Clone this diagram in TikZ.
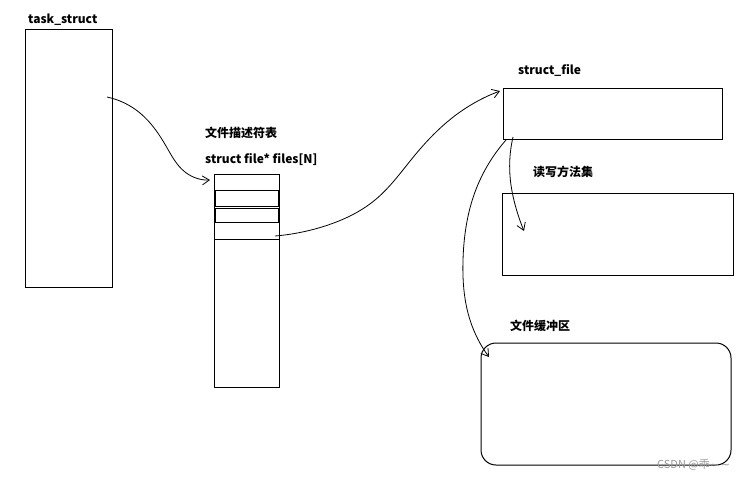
\documentclass[tikz,border=0pt]{standalone}
\usepackage{fontspec}
\newfontfamily\cjk{Noto Sans CJK SC}
\newfontfamily\symfont{DejaVu Sans}
\usepackage{tikz}
\usetikzlibrary{hobby, calc, arrows.meta}
\def\Wth{1pt}
\def\Ink{black}
\def\Fade{black!40}
\tikzset{
    mem box/.style={
        draw=\Ink, line width=\Wth, rectangle,
        inner sep=0pt, outer sep=0pt, anchor=north west
    },
    hand arrow/.style={
        draw=\Ink, line width=0.8pt,
        -{Straight Barb[length=7pt,width=9pt]}
    },
    lbl/.style={
        font=\cjk\bfseries\fontsize{12}{14}\selectfont,
        anchor=west, inner sep=0pt
    }
}

\begin{document}
\begin{tikzpicture}[x=1pt, y=-1pt, use Hobby shortcut]
    \useasboundingbox[fill=white] (0,0) rectangle (754,480);

    % boxes
    \node[mem box, minimum width=87, minimum height=258] (task) at (25,29) {};
    \node[mem box, minimum width=65, minimum height=213] (fdt) at (214,174) {};
    \node[mem box, minimum width=219, minimum height=51] (sfile) at (503,88) {};
    \node[mem box, minimum width=231, minimum height=82] (rw) at (502,193) {};
    \node[mem box, rounded corners=15pt, minimum width=250, minimum height=122] (buf) at (481,343) {};

    % slots of the table
    \draw[line width=\Wth] ($(fdt.north west)+(0,16)$) -- ++(65,0);
    \draw[line width=\Wth] ($(fdt.north west)+(1,16)$) rectangle ++(63,16);
    \draw[line width=\Wth] ($(fdt.north west)+(1,34)$) rectangle ++(63,14);
    \draw[line width=\Wth] ($(fdt.north west)+(0,48)$) -- ++(65,0);
    \draw[line width=\Wth] ($(fdt.north west)+(0,65)$) -- ++(65,0);

    % labels
    \node[lbl] (taskLbl) at (28,20) {task\_struct};
    \node[lbl] (fdtName) at (205,133) {文件描述符表};
    \node[lbl] (fdtDecl) at (205,160) {struct file* files[N]};
    \node[lbl] (sfileLbl) at (518,70) {struct\_file};
    \node[lbl] (rwLbl) at (533,172) {读写方法集};
    \node[lbl] (bufLbl) at (510,326) {文件缓冲区};
    \node[font=\cjk\fontsize{11}{13}\selectfont, text=\Fade, anchor=west, inner sep=0pt]
        (mark) at (657,465) {CSDN @乖{\symfont\string~\,\string~}};

    % pointer ends
    \coordinate (tFrom) at ($(task.north west)+(82,68)$);
    \coordinate (tTo) at ($(fdt.north west)+(-4,6)$);
    \coordinate (fFrom) at ($(fdt.north west)+(61,62)$);
    \coordinate (fTo) at ($(sfile.north west)+(-3,3)$);
    \coordinate (sFromA) at ($(sfile.south west)+(10,-2)$);
    \coordinate (sToA) at ($(rw.north west)+(22,38)$);
    \coordinate (sFromB) at ($(sfile.south west)+(3,1)$);
    \coordinate (sToB) at ($(buf.north west)+(8,14)$);

    % pointers
    \draw[hand arrow] (tFrom) .. (140,113) .. (166,146) .. (185,172) .. (tTo);
    \draw[hand arrow] (fFrom) .. (325,226) .. (375,200) .. (415,155) .. (460,112) .. (fTo);
    \draw[hand arrow] (sFromA) .. (510,176) .. (516,208) .. (sToA);
    \draw[hand arrow] (sFromB) .. (475,192) .. (463,260) .. (470,320) .. (sToB);
\end{tikzpicture}
\end{document}
